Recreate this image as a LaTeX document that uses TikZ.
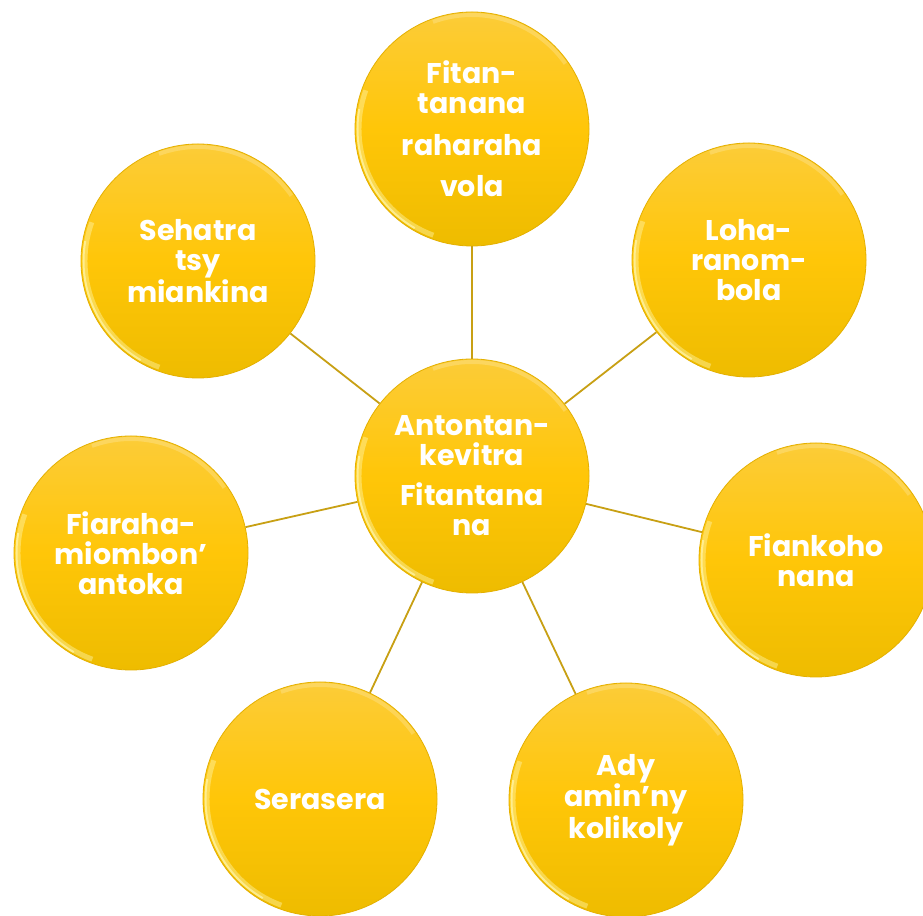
\documentclass[tikz,border=0pt]{standalone}
\usepackage{fontspec}
\setmainfont{Poppins}
\usetikzlibrary{calc}
\definecolor{goldtop}{RGB}{252,204,56}
\definecolor{goldmid}{RGB}{255,198,8}
\definecolor{goldbot}{RGB}{238,188,0}
\definecolor{goldedge}{RGB}{228,176,0}
\definecolor{linkcol}{RGB}{200,160,20}
\definecolor{rimcol}{RGB}{255,246,170}
\begin{document}
\begin{tikzpicture}[x=1pt,y=1pt,
  bubble/.style={circle, minimum size=234pt, inner sep=0pt,
    top color=goldtop, bottom color=goldbot, middle color=goldmid,
    draw=goldedge, line width=0.8pt, text=white,
    font=\fontsize{28.5}{30}\selectfont\bfseries, align=center,
    path picture={
      \draw[rimcol, opacity=.45, line width=5pt]
        ($(path picture bounding box.center)+(160:113pt)$) arc (160:250:113pt);
      \draw[rimcol, opacity=.7, line width=2pt]
        ($(path picture bounding box.center)+(170:114.5pt)$) arc (170:240:114.5pt);
      \draw[white, opacity=.2, line width=4pt]
        ($(path picture bounding box.center)+(35:114pt)$) arc (35:110:114pt);}},
  link/.style={draw=linkcol, line width=1.8pt}]
\useasboundingbox (0,0) rectangle (923,915);
\clip (0,0) rectangle (923,915);
\fill[white] (0,0) rectangle (923,915);

\node[bubble] (c)  at (472,439) {Antontan-\\kevitra\\[10pt]Fitantana\\na};
\node[bubble] (t)  at (472,786) {Fitan-\\tanana\\[12pt]raharaha\\[11pt]vola};
\node[bubble] (tr) at (749,655) {Loha-\\ranom-\\bola};
\node[bubble] (r)  at (816,355) {Fiankoho\\nana};
\node[bubble] (br) at (626,115) {Ady\\amin’ny\\kolikoly};
\node[bubble] (bl) at (320,116) {Serasera};
\node[bubble] (l)  at (131,362) {Fiaraha-\\miombon’\\antoka};
\node[bubble] (tl) at (198,654) {Sehatra\\tsy\\miankina};

\foreach \n in {t,tr,r,br,bl,l,tl}
  \draw[link] (c) -- (\n);
\end{tikzpicture}
\end{document}
